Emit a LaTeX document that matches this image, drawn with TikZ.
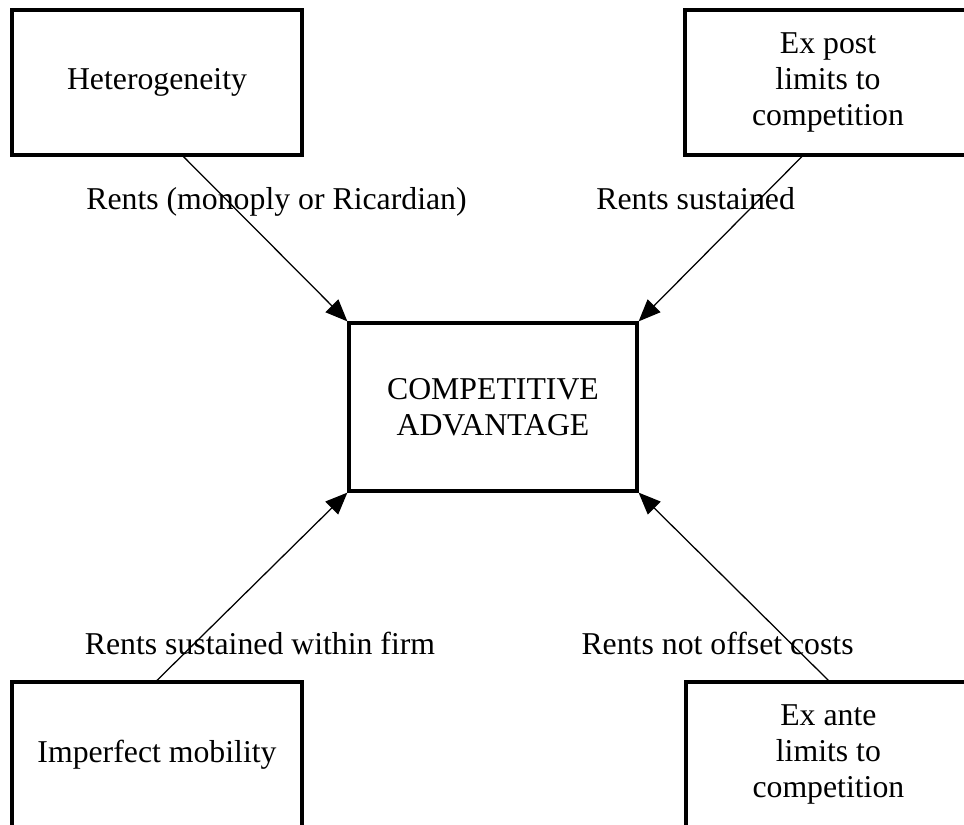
\documentclass[tikz,border=0pt]{standalone}
\usepackage{fontspec}
\setmainfont{Liberation Serif}
\usepackage{tikz}
\usetikzlibrary{arrows.meta}
\usetikzlibrary{calc}

\begin{document}
\begin{tikzpicture}[
    box/.style={draw, line width=2.3pt, inner sep=0pt, align=center,
      font=\fontsize{22.6}{25.6}\selectfont},
    lbl/.style={anchor=base, inner sep=0pt, font=\fontsize{22.6}{25.6}\selectfont},
    link/.style={line width=0.9pt, -{Triangle[length=0.55cm,width=0.45cm]}}
  ]
    \clip (0,0) rectangle (24.1,20.6);
    % the four sources and the centre
    \node[box, minimum width=7.25cm, minimum height=3.625cm] (het) at (3.925,18.54) {Heterogeneity};
    \node[box, minimum width=7.15cm, minimum height=3.625cm] (post) at (20.7,18.54) {Ex post\\limits to\\competition};
    \node[box, minimum width=7.2cm, minimum height=4.2cm] (comp) at (12.325,10.425) {COMPETITIVE\\ADVANTAGE};
    \node[box, minimum width=7.25cm, minimum height=3.625cm] (mob) at (3.925,1.7375) {Imperfect mobility};
    \node[box, minimum width=7.125cm, minimum height=3.625cm] (ante) at (20.71,1.7375) {Ex ante\\limits to\\competition};

    \draw[link] ($(het.south west)!0.59!(het.south east)$) -- (comp.north west);
    \draw[link] ($(post.south west)!0.41!(post.south east)$) -- (comp.north east);
    \draw[link] (mob.north) -- (comp.south west);
    \draw[link] (ante.north) -- (comp.south east);

    \node[lbl] (rentA) at (6.9125,15.35) {Rents (monoply or Ricardian)};
    \node[lbl] (rentB) at (17.39,15.35) {Rents sustained};
    \node[lbl] (rentC) at (6.5,4.25) {Rents sustained within firm};
    \node[lbl] (rentD) at (17.94,4.25) {Rents not offset costs};
  \end{tikzpicture}
\end{document}
